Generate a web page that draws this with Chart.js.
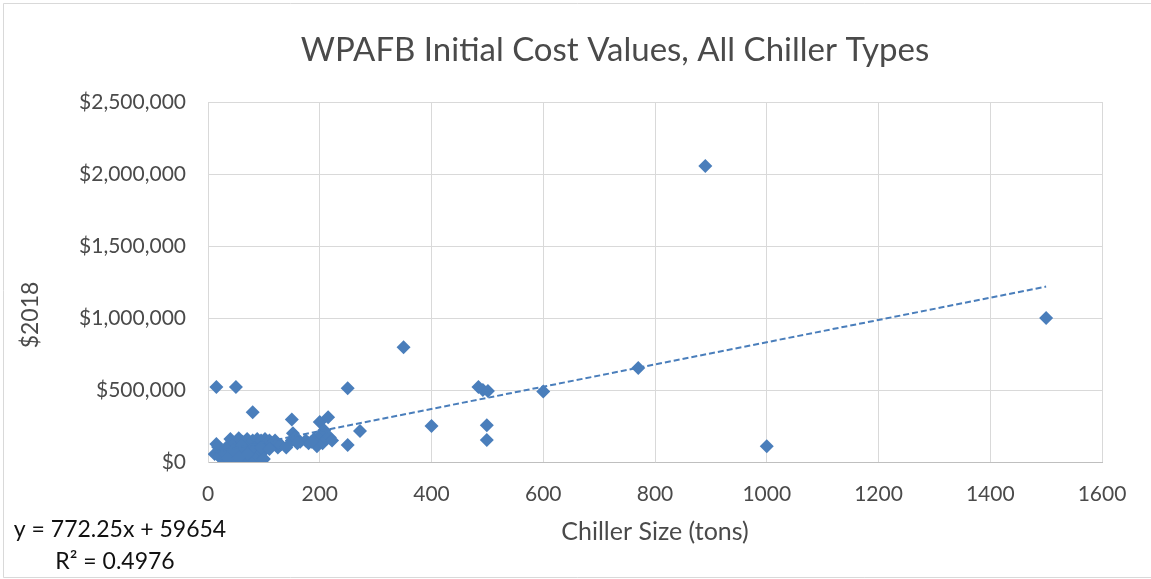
<!DOCTYPE html>
<html>
<head>
<meta charset="utf-8">
<script src="https://cdn.jsdelivr.net/npm/chart.js@4.4.1/dist/chart.umd.min.js"></script>
<style>
html,body{margin:0;padding:0;background:#fff;}
#wrap{width:1151px;height:579px;position:relative;}
</style>
</head>
<body>
<div id="wrap"><canvas id="c" width="1151" height="579"></canvas></div>
<script>
// ---- data ----
const chillerSizeTons = [
  15,50,80,150,152,200,215,250,250,272,350,400,484,492,501,499,499,600,770,890,1000,1500,
  15,18,12,20,25,30,35,40,42,45,48,50,52,55,58,60,62,65,68,70,72,75,78,80,82,85,88,90,92,95,98,100,
  102,105,110,115,120,125,130,140,150,155,165,175,180,190,195,200,202,205,208,212,218,222,185,60,45,35,70,95,110,55,160
];
const initialCost2018 = [
  520000,520000,345000,295000,200000,278000,310000,513000,118000,215000,797000,250000,521000,500000,493000,255000,153000,490000,652000,2055000,110000,1000000,
  125000,105000,55000,40000,20000,60000,110000,160000,30000,5000,130000,60000,15000,165000,100000,40000,140000,5000,80000,160000,25000,120000,50000,150000,10000,90000,160000,40000,130000,150000,70000,20000,
  160000,110000,150000,130000,150000,100000,120000,100000,150000,170000,140000,150000,130000,160000,110000,150000,190000,130000,220000,160000,170000,150000,140000,110000,80000,25000,55000,100000,90000,30000,130000
];
const trendSlope = 772.25;
const trendIntercept = 59654;
const trendLabel = ['y = 772.25x + 59654', 'R\u00b2 = 0.4976'];
const xTicks = [0,200,400,600,800,1000,1200,1400,1600];
const yTicks = [0,500000,1000000,1500000,2000000,2500000];
const chartTitle = 'WPAFB Initial Cost Values, All Chiller Types';
const xTitle = 'Chiller Size (tons)';
const yTitle = '$2018';

const points = chillerSizeTons.map((x, i) => ({x: x, y: initialCost2018[i]}));
const xMin = Math.min(...chillerSizeTons), xMax = Math.max(...chillerSizeTons);
const trendPoints = [
  {x: xMin, y: trendSlope * xMin + trendIntercept},
  {x: xMax, y: trendSlope * xMax + trendIntercept}
];

const FONT = 'Lato, "Open Sans", sans-serif';
const TEXT = '#4a4a4a';
const BLUE = '#4a7ebb';

const extras = {
  id: 'extras',
  beforeDraw(chart) {
    const ctx = chart.ctx;
    ctx.save();
    ctx.fillStyle = '#fff';
    ctx.fillRect(0, 0, chart.width, chart.height);
    ctx.strokeStyle = '#d9d9d9';
    ctx.lineWidth = 1;
    ctx.beginPath();
    ctx.moveTo(3.5, 3.5); ctx.lineTo(1151, 3.5);
    ctx.moveTo(3.5, 3.5); ctx.lineTo(3.5, 577.5);
    ctx.moveTo(3.5, 577.5); ctx.lineTo(1151, 577.5);
    ctx.stroke();
    ctx.restore();
  },
  afterDraw(chart) {
    const ctx = chart.ctx;
    // chart title
    ctx.save();
    ctx.fillStyle = TEXT;
    ctx.font = '33px ' + FONT;
    ctx.textAlign = 'center';
    ctx.textBaseline = 'middle';
    ctx.fillText(chartTitle, 615, 50);
    ctx.restore();
    // y axis title
    ctx.save();
    ctx.fillStyle = TEXT;
    ctx.font = '23px ' + FONT;
    ctx.textAlign = 'center';
    ctx.textBaseline = 'middle';
    ctx.translate(31, 315);
    ctx.rotate(-Math.PI / 2);
    ctx.fillText(yTitle, 0, 0);
    ctx.restore();
    // trendline label
    ctx.save();
    ctx.fillStyle = '#111';
    ctx.font = '23px ' + FONT;
    ctx.textAlign = 'center';
    ctx.textBaseline = 'middle';
    ctx.fillText(trendLabel[0], 120, 530);
    ctx.fillText(trendLabel[1], 115, 562);
    ctx.restore();
  }
};

new Chart(document.getElementById('c'), {
  type: 'scatter',
  data: {
    datasets: [
      {
        type: 'line',
        data: trendPoints,
        borderColor: BLUE,
        borderWidth: 2,
        borderDash: [6, 3],
        pointRadius: 0,
        fill: false,
        order: 0
      },
      {
        data: points,
        pointStyle: 'rectRot',
        pointRadius: 7,
        pointHoverRadius: 7,
        backgroundColor: BLUE,
        borderColor: BLUE,
        borderWidth: 0,
        order: 1
      }
    ]
  },
  options: {
    responsive: false,
    animation: false,
    events: [],
    layout: {padding: {left: 0, right: 49, top: 102, bottom: 0}},
    plugins: {
      legend: {display: false},
      tooltip: {enabled: false},
      title: {display: false}
    },
    scales: {
      x: {
        type: 'linear',
        min: 0, max: 1600,
        afterBuildTicks(s) { s.ticks = xTicks.map(v => ({value: v})); },
        afterFit(s) { s.height = 117; },
        grid: {color: '#d9d9d9', lineWidth: 1, drawTicks: false},
        border: {color: '#bfbfbf', width: 1},
        ticks: {color: TEXT, font: {family: FONT, size: 21}, padding: 20, maxRotation: 0,
          callback: v => String(v)},
        title: {display: true, text: xTitle, color: TEXT, font: {family: FONT, size: 25}, padding: {top: 0, bottom: 32}}
      },
      y: {
        type: 'linear',
        min: 0, max: 2500000,
        afterBuildTicks(s) { s.ticks = yTicks.map(v => ({value: v})); },
        afterFit(s) { s.width = 208; },
        grid: {color: '#d9d9d9', lineWidth: 1, drawTicks: false},
        border: {color: '#d9d9d9', width: 1},
        ticks: {
          color: TEXT, font: {family: FONT, size: 21}, padding: 22,
          callback: v => '$' + Number(v).toLocaleString('en-US')
        }
      }
    }
  },
  plugins: [extras]
});
</script>
</body>
</html>
